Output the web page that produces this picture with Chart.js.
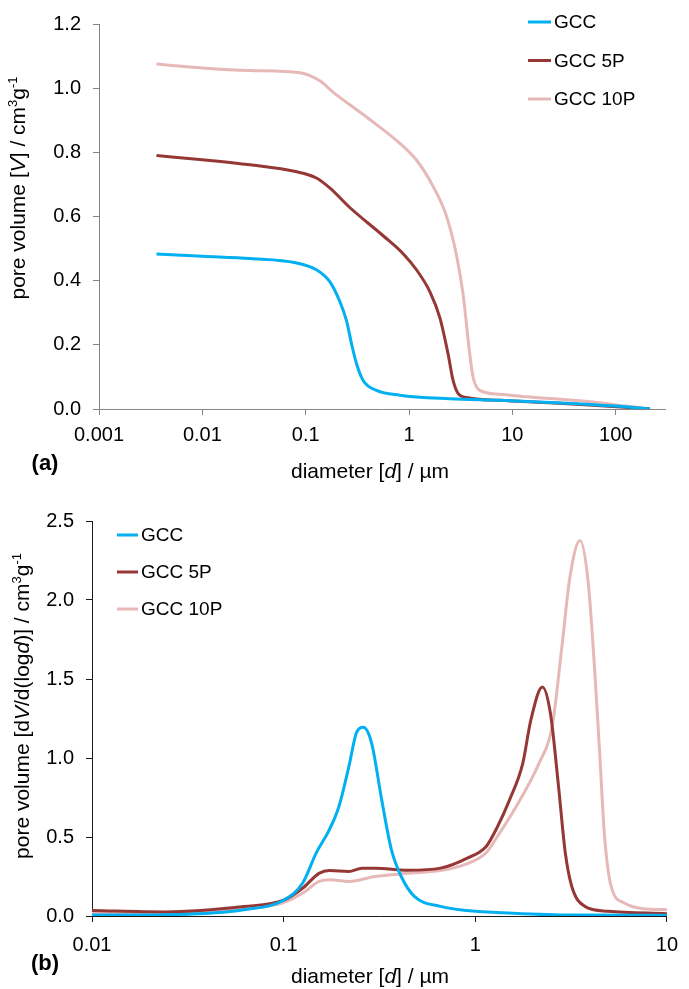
<!DOCTYPE html>
<html lang="en">
<head>
    <meta charset="UTF-8">
    <title>GCC pore size distribution</title>
    <!-- Chart.js -->
    <script src="https://cdn.jsdelivr.net/npm/chart.js"></script>
    <style>
        body {
            margin: 0;
            background-color: #ffffff;
        }
        canvas {
            display: block;
        }
    </style>
</head>
<body>
    <canvas id="cumulativeChart" width="689" height="490"></canvas>
    <canvas id="distributionChart" width="689" height="499"></canvas>

    <script>
        // (a) cumulative intruded pore volume, cm3/g against pore diameter in µm
        const gccDiamA = [0.0036, 0.01, 0.029, 0.08, 0.127, 0.171, 0.214, 0.249, 0.278, 0.31, 0.36, 0.485, 0.815, 2.48, 7.5, 30, 100, 215];
        const gccVolA = [0.483, 0.476, 0.469, 0.456, 0.434, 0.397, 0.335, 0.274, 0.203, 0.142, 0.089, 0.058, 0.043, 0.032, 0.027, 0.019, 0.009, 0.0];
        const gcc5DiamA = [0.0036, 0.01, 0.029, 0.08, 0.127, 0.171, 0.267, 0.562, 0.877, 1.18, 1.59, 1.99, 2.39, 2.67, 2.99, 3.6, 7.5, 20, 60, 215];
        const gcc5VolA = [0.79, 0.777, 0.761, 0.74, 0.72, 0.689, 0.628, 0.54, 0.484, 0.434, 0.366, 0.284, 0.171, 0.089, 0.048, 0.036, 0.027, 0.02, 0.012, 0.0];
        const gcc10DiamA = [0.0036, 0.01, 0.029, 0.088, 0.137, 0.185, 0.388, 0.815, 1.18, 1.71, 2.3, 2.88, 3.34, 3.87, 4.17, 4.84, 7.5, 14, 60, 127, 215];
        const gcc10VolA = [1.075, 1.063, 1.055, 1.048, 1.023, 0.987, 0.91, 0.828, 0.776, 0.694, 0.602, 0.479, 0.356, 0.171, 0.099, 0.058, 0.046, 0.038, 0.022, 0.009, 0.0];

        // (b) log-differential intrusion dV/d(log d)
        const gccDiamB = [0.01, 0.028, 0.062, 0.1, 0.126, 0.148, 0.173, 0.194, 0.219, 0.241, 0.261, 0.288, 0.325, 0.365, 0.411, 0.481, 0.659, 0.903, 1.39, 2.95, 10];
        const gccDvB = [0.006, 0.01, 0.04, 0.10, 0.21, 0.40, 0.545, 0.69, 0.945, 1.166, 1.194, 1.093, 0.735, 0.42, 0.25, 0.124, 0.061, 0.035, 0.02, 0.006, 0.005];
        const gcc5DiamB = [0.01, 0.024, 0.062, 0.1, 0.126, 0.153, 0.173, 0.219, 0.256, 0.3, 0.445, 0.659, 0.903, 1.14, 1.3, 1.51, 1.77, 1.95, 2.24, 2.47, 2.72, 2.95, 3.19, 3.73, 4.92, 10];
        const gcc5DvB = [0.035, 0.026, 0.06, 0.10, 0.177, 0.27, 0.288, 0.282, 0.303, 0.303, 0.29, 0.303, 0.365, 0.44, 0.56, 0.735, 0.966, 1.24, 1.45, 1.28, 0.82, 0.40, 0.187, 0.061, 0.03, 0.015];
        const gcc10DiamB = [0.01, 0.028, 0.062, 0.1, 0.126, 0.153, 0.173, 0.219, 0.3, 0.445, 0.659, 0.903, 1.14, 1.3, 1.63, 2.15, 2.52, 2.83, 3.12, 3.52, 3.88, 4.2, 4.46, 4.73, 5.12, 5.99, 7.89, 10];
        const gcc10DvB = [0.022, 0.015, 0.045, 0.085, 0.145, 0.219, 0.23, 0.219, 0.25, 0.27, 0.288, 0.33, 0.40, 0.5, 0.69, 0.966, 1.2, 1.70, 2.145, 2.377, 2.12, 1.556, 1.03, 0.503, 0.187, 0.082, 0.044, 0.04];

        const seriesNames = ['GCC', 'GCC 5P', 'GCC 10P'];
        const seriesColors = ['#00B0F0', '#953735', '#E6B9B8'];

        // decade ticks on the diameter axes
        const diamTicksA = [0.001, 0.01, 0.1, 1, 10, 100];
        const diamTicksB = [0.01, 0.1, 1, 10];

        const FONT = '"Liberation Sans", Arial, sans-serif';

        function points(xs, ys) {
            return xs.map((x, i) => ({ x: x, y: ys[i] }));
        }

        function series(pairs) {
            return pairs.map((p, i) => ({
                label: seriesNames[i],
                data: points(p[0], p[1]),
                borderColor: seriesColors[i],
                backgroundColor: seriesColors[i],
                borderWidth: 3,
                pointRadius: 0,
                fill: false,
                cubicInterpolationMode: 'monotone'
            }));
        }

        // text with italic parts and superscripts, centred on (x, y)
        function drawRich(ctx, parts, x, y, size, rotate) {
            const fontFor = p => (p.b ? 'bold ' : '') + (p.i ? 'italic ' : '') +
                Math.round(p.sup ? size * 0.62 : size) + 'px ' + FONT;
            let total = 0;
            parts.forEach(p => { ctx.font = fontFor(p); total += ctx.measureText(p.t).width; });
            ctx.save();
            ctx.translate(x, y);
            if (rotate) ctx.rotate(-Math.PI / 2);
            ctx.fillStyle = '#000';
            ctx.textAlign = 'left';
            ctx.textBaseline = 'alphabetic';
            let cx = -total / 2;
            parts.forEach(p => {
                ctx.font = fontFor(p);
                ctx.fillText(p.t, cx, size * 0.36 - (p.sup ? size * 0.38 : 0));
                cx += ctx.measureText(p.t).width;
            });
            ctx.restore();
        }

        // legend list and rich axis titles
        const decorPlugin = {
            id: 'decor',
            afterDraw(chart, args, opts) {
                const ctx = chart.ctx;
                const lg = opts.legend;
                ctx.save();
                chart.data.datasets.forEach((ds, i) => {
                    const y = lg.y + i * lg.dy;
                    ctx.strokeStyle = ds.borderColor;
                    ctx.lineWidth = 3;
                    ctx.beginPath();
                    ctx.moveTo(lg.x, y);
                    ctx.lineTo(lg.x + lg.len, y);
                    ctx.stroke();
                    ctx.fillStyle = '#000';
                    ctx.font = lg.size + 'px ' + FONT;
                    ctx.textAlign = 'left';
                    ctx.textBaseline = 'middle';
                    ctx.fillText(ds.label, lg.x + lg.len + 3, y + 1);
                });
                ctx.restore();
                opts.texts.forEach(t => drawRich(ctx, t.parts, t.x, t.y, t.size, t.rotate));
            }
        };

        function makeChart(id, datasets, cfg) {
            const ctx = document.getElementById(id).getContext('2d');
            return new Chart(ctx, {
                type: 'line',
                data: { datasets: datasets },
                options: {
                    responsive: false,
                    animation: false,
                    events: [],
                    layout: { padding: { top: cfg.top, right: cfg.right, left: 0, bottom: 0 } },
                    plugins: {
                        legend: { display: false },
                        tooltip: { enabled: false },
                        decor: { legend: cfg.legend, texts: cfg.texts }
                    },
                    scales: {
                        x: {
                            type: 'logarithmic',
                            min: cfg.xMin,
                            max: cfg.xMax,
                            afterBuildTicks: scale => { scale.ticks = cfg.xTicks.map(v => ({ value: v, major: true })); },
                            afterFit: scale => { scale.height = cfg.xHeight; },
                            ticks: {
                                autoSkip: false,
                                maxRotation: 0,
                                padding: cfg.xPad,
                                color: '#000',
                                font: { family: FONT, size: 20 },
                                callback: v => String(v)
                            },
                            grid: { drawOnChartArea: false, drawTicks: true, tickLength: 6, color: cfg.axisColor },
                            border: { display: true, color: cfg.axisColor, width: 1 }
                        },
                        y: {
                            type: 'linear',
                            min: 0,
                            max: cfg.yMax,
                            afterFit: scale => { scale.width = cfg.yWidth; },
                            ticks: {
                                stepSize: cfg.yStep,
                                padding: 12,
                                color: '#000',
                                font: { family: FONT, size: 20 },
                                callback: v => v.toFixed(1)
                            },
                            grid: { drawOnChartArea: false, drawTicks: true, tickLength: 6, color: cfg.axisColor },
                            border: { display: true, color: cfg.axisColor, width: 1 }
                        }
                    }
                },
                plugins: [decorPlugin]
            });
        }

        const diamTitle = [{ t: 'diameter [' }, { t: 'd', i: 1 }, { t: '] / µm' }];

        makeChart('cumulativeChart', series([[gccDiamA, gccVolA], [gcc5DiamA, gcc5VolA], [gcc10DiamA, gcc10VolA]]), {
            top: 19, right: 24, yWidth: 99, xHeight: 81, xPad: 8,
            xMin: 0.001, xMax: 300, xTicks: diamTicksA,
            yMax: 1.2, yStep: 0.2,
            axisColor: '#868686',
            legend: { x: 528, y: 22, dy: 38.5, len: 23, size: 19 },
            texts: [
                { parts: [{ t: 'pore volume [' }, { t: 'V', i: 1 }, { t: '] / cm' }, { t: '3', sup: 1 }, { t: 'g' }, { t: '-1', sup: 1 }],
                  x: 17, y: 188, size: 21, rotate: true },
                { parts: diamTitle, x: 370, y: 470, size: 21 },
                { parts: [{ t: '(a)', b: 1 }], x: 45, y: 462, size: 22 }
            ]
        });

        makeChart('distributionChart', series([[gccDiamB, gccDvB], [gcc5DiamB, gcc5DvB], [gcc10DiamB, gcc10DvB]]), {
            top: 31, right: 12, yWidth: 92, xHeight: 73, xPad: 11,
            xMin: 0.01, xMax: 10, xTicks: diamTicksB,
            yMax: 2.5, yStep: 0.5,
            axisColor: '#1a1a1a',
            legend: { x: 117, y: 45, dy: 37, len: 21, size: 19 },
            texts: [
                { parts: [{ t: 'pore volume [d' }, { t: 'V', i: 1 }, { t: '/d(log' }, { t: 'd', i: 1 }, { t: ')] / cm' }, { t: '3', sup: 1 }, { t: 'g' }, { t: '-1', sup: 1 }],
                  x: 21, y: 216, size: 21, rotate: true },
                { parts: diamTitle, x: 370, y: 485, size: 21 },
                { parts: [{ t: '(b)', b: 1 }], x: 45, y: 472, size: 22 }
            ]
        });
    </script>
</body>
</html>
